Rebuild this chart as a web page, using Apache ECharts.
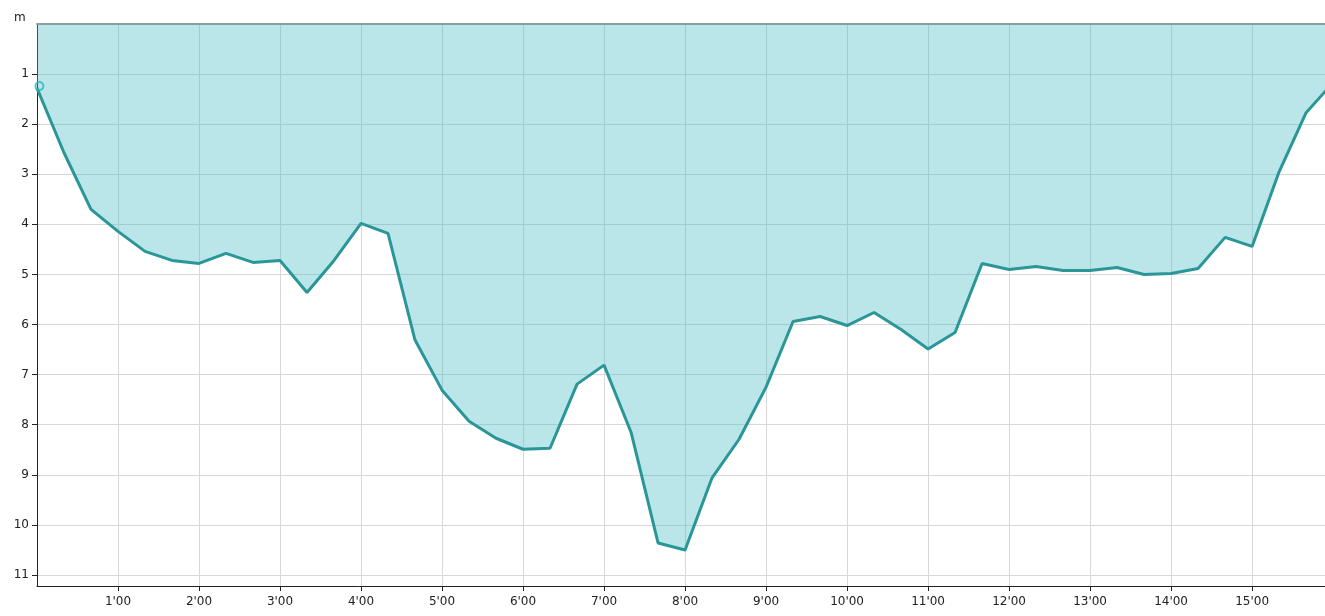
<!DOCTYPE html>
<html><head><meta charset="utf-8">
<script src="https://cdn.jsdelivr.net/npm/echarts@6/dist/echarts.min.js"></script>
<style>html,body{margin:0;padding:0;background:#fff}#c{width:1325px;height:616px}</style>
</head><body><div id="c"></div>
<script>
// time in minutes (every 20 s)
const times = [0,0.3333,0.6667,1,1.3333,1.6667,2,2.3333,2.6667,3,3.3333,3.6667,4,4.3333,4.6667,5,5.3333,5.6667,6,6.3333,6.6667,7,7.3333,7.6667,8,8.3333,8.6667,9,9.3333,9.6667,10,10.3333,10.6667,11,11.3333,11.6667,12,12.3333,12.6667,13,13.3333,13.6667,14,14.3333,14.6667,15,15.3333,15.6667,16];
// depth in metres
const depths = [1.28,2.57,3.7,4.14,4.54,4.72,4.78,4.58,4.76,4.72,5.36,4.72,3.98,4.18,6.31,7.31,7.93,8.27,8.49,8.47,7.19,6.81,8.15,10.36,10.5,9.06,8.29,7.25,5.94,5.84,6.02,5.76,6.1,6.49,6.16,4.78,4.9,4.84,4.92,4.92,4.86,5.0,4.98,4.88,4.26,4.44,2.95,1.77,1.17];
const startPoint = [[0.03, 1.24]];
const xTicks = [1,2,3,4,5,6,7,8,9,10,11,12,13,14,15];
const yTicks = [1,2,3,4,5,6,7,8,9,10,11];
const yUnit = 'm';

const chart = echarts.init(document.getElementById('c'));
const font = 'DejaVu Sans';
chart.setOption({
  animation: false,
  title: {text: yUnit, left: 9, top: 7, textStyle: {fontSize: 12, fontWeight: 'normal', color: '#222', fontFamily: font}},
  grid: {left: 37, right: 0, top: 24, bottom: 30},
  xAxis: [{
    type: 'value', min: 0, max: 15.9, interval: 1,
    axisLine: {show: true, onZero: false, lineStyle: {color: '#222', width: 1}},
    axisTick: {show: true, length: 5, lineStyle: {color: '#222'}, customValues: xTicks},
    axisLabel: {color: '#222', fontSize: 12, fontFamily: font, margin: 10, customValues: xTicks,
      formatter: v => Math.round(v) + "'00"},
    splitLine: {show: true, lineStyle: {color: '#d8d8d8', width: 1}}
  }, {
    type: 'value', position: 'top', min: 0, max: 15.9,
    axisLine: {show: true, onZero: false, lineStyle: {color: '#999', width: 2}},
    axisTick: {show: false}, axisLabel: {show: false}, splitLine: {show: false}
  }],
  yAxis: {
    type: 'value', inverse: true, min: 0, max: 11.22, interval: 1,
    axisLine: {show: true, lineStyle: {color: '#222', width: 1}},
    axisTick: {show: true, length: 5, lineStyle: {color: '#222'}, customValues: yTicks},
    axisLabel: {color: '#222', fontSize: 12, fontFamily: font, margin: 8, customValues: yTicks,
      formatter: v => String(Math.round(v))},
    splitLine: {show: true, lineStyle: {color: '#d8d8d8', width: 1}}
  },
  series: [{
    type: 'line',
    data: times.map((t, i) => [t, depths[i]]),
    showSymbol: false,
    clip: true,
    lineStyle: {color: '#2a9698', width: 3},
    itemStyle: {color: '#2a9698'},
    areaStyle: {color: 'rgb(68,187,196)', opacity: 0.37, origin: 'start'}
  }, {
    type: 'scatter',
    data: startPoint,
    symbol: 'circle',
    symbolSize: 8,
    clip: false,
    itemStyle: {color: 'rgba(255,255,255,0)', borderColor: '#2bb5bd', borderWidth: 2},
    z: 5
  }]
});
</script></body></html>
